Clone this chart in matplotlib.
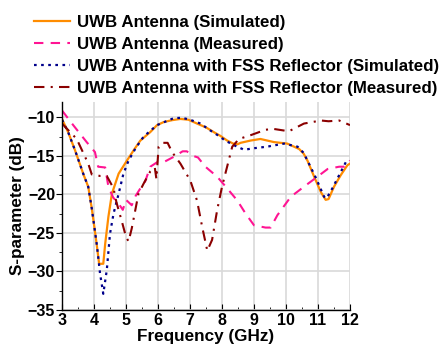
import matplotlib
matplotlib.use("Agg")
import matplotlib.pyplot as plt
from matplotlib.ticker import MultipleLocator

plt.rcParams['font.family'] = ['Liberation Sans', 'DejaVu Sans']
plt.rcParams['font.weight'] = 'bold'

labels = ["UWB Antenna (Simulated)", "UWB Antenna (Measured)",
          "UWB Antenna with FSS Reflector (Simulated)",
          "UWB Antenna with FSS Reflector (Measured)"]

uwb_sim_f = [3.0, 3.2, 3.41, 3.68, 3.82, 3.93, 4.03, 4.1, 4.16, 4.29, 4.35, 4.45, 4.56, 4.77,
             5.03, 5.25, 5.45, 5.76, 5.97, 6.18, 6.45, 6.7, 6.95, 7.22, 7.5, 7.74, 7.95, 8.16,
             8.35, 8.48, 8.58, 8.9, 9.2, 9.62, 10.04, 10.41, 10.55, 10.67, 10.88, 11.09, 11.24,
             11.33, 11.5, 11.71, 11.92, 12.0]
uwb_sim_s = [-10.2, -12.0, -14.3, -17.5, -19.0, -21.8, -24.8, -27.0, -29.0, -29.0, -26.4, -22.9,
             -19.9, -17.3, -15.6, -14.2, -13.0, -11.9, -11.0, -10.6, -10.35, -10.2, -10.3, -10.8,
             -11.3, -11.9, -12.4, -13.0, -13.4, -13.5, -13.3, -13.0, -12.8, -13.2, -13.4, -14.1,
             -14.7, -15.6, -17.7, -19.7, -20.7, -20.6, -19.0, -17.5, -16.2, -16.0]

uwb_meas_f = [3.0, 3.35, 3.77, 4.03, 4.13, 4.35, 4.45, 4.6, 4.77, 4.9, 5.0, 5.18, 5.3, 5.45, 5.6,
              5.76, 5.98, 6.18, 6.5, 6.77, 6.9, 7.1, 7.25, 7.48, 7.85, 8.16, 8.48, 8.74, 9.0,
              9.36, 9.52, 9.73, 10.15, 10.56, 10.98, 11.3, 11.66, 11.82, 12.0]
uwb_meas_s = [-9.1, -11.0, -13.2, -14.5, -16.4, -16.5, -19.0, -20.4, -21.2, -22.0, -20.7, -21.4,
              -20.2, -19.2, -18.3, -16.4, -15.8, -15.8, -15.1, -14.4, -14.4, -15.0, -15.2, -16.4,
              -17.7, -19.2, -20.8, -22.5, -24.0, -24.3, -24.3, -22.7, -20.3, -19.0, -17.7, -16.7,
              -16.4, -16.4, -15.6]

fss_sim_f = [3.0, 3.2, 3.41, 3.68, 3.82, 3.93, 4.03, 4.09, 4.19, 4.29, 4.40, 4.50, 4.61, 4.77,
             4.92, 5.08, 5.3, 5.55, 5.8, 5.97, 6.2, 6.49, 6.75, 7.0, 7.33, 7.6, 7.9, 8.1, 8.37,
             8.69, 9.0, 9.41, 9.94, 10.36, 10.55, 10.67, 10.94, 11.19, 11.27, 11.45, 11.71, 11.92]
fss_sim_s = [-10.3, -12.0, -14.3, -17.5, -19.0, -21.8, -24.8, -26.6, -30.3, -32.9, -29.8, -25.1,
             -22.5, -19.9, -17.3, -15.6, -14.0, -12.5, -11.6, -11.0, -10.6, -10.1, -10.05, -10.3,
             -10.8, -11.6, -12.4, -13.0, -13.6, -14.2, -14.0, -13.8, -13.4, -13.8, -14.6, -15.6,
             -17.9, -20.3, -20.5, -19.2, -17.1, -15.4]

fss_meas_f = [3.0, 3.46, 3.82, 3.93, 4.19, 4.4, 4.61, 4.7, 4.87, 5.0, 5.08, 5.18, 5.39, 5.55,
              5.76, 5.9, 5.95, 6.02, 6.13, 6.3, 6.44, 6.7, 7.01, 7.22, 7.38, 7.54, 7.69, 7.85,
              8.0, 8.16, 8.32, 8.53, 8.9, 9.1, 9.36, 9.62, 10.09, 10.56, 11.09, 11.33, 11.66, 12.0]
fss_meas_s = [-10.8, -12.8, -16.0, -17.4, -17.6, -17.6, -19.2, -21.0, -23.5, -25.5, -26.1, -24.4,
              -19.9, -18.6, -17.0, -16.5, -18.0, -13.8, -13.3, -13.3, -14.5, -16.0, -18.2, -20.8,
              -24.2, -27.3, -25.9, -22.0, -19.0, -16.4, -13.8, -12.8, -12.3, -12.0, -11.6, -11.5,
              -11.8, -10.8, -10.4, -10.5, -10.4, -11.0]

x_ticks = [3, 4, 5, 6, 7, 8, 9, 10, 11, 12]
y_ticks = [-35, -30, -25, -20, -15, -10]

fig = plt.figure(figsize=(4.41, 3.54), dpi=100)
ax = fig.add_axes([62/441, 1-310/354, (350-62)/441, (310-102)/354])

l1, = ax.plot(uwb_sim_f, uwb_sim_s, color='#FF8C00', lw=1.6, ls='-')
l2, = ax.plot(uwb_meas_f, uwb_meas_s, color='#FF1493', lw=1.5, dashes=(4.5, 3.5))
l3, = ax.plot(fss_sim_f, fss_sim_s, color='#00008B', lw=1.6, dashes=(1.2, 2.0))
l4, = ax.plot(fss_meas_f, fss_meas_s, color='#8B0000', lw=1.5, dashes=(5, 3, 1, 3))

ax.set_xlim(3, 12)
ax.set_ylim(-35, -8)
ax.set_xticks(x_ticks)
ax.set_yticks(y_ticks)
ax.xaxis.set_minor_locator(MultipleLocator(0.5))
ax.yaxis.set_minor_locator(MultipleLocator(2.5))
ax.grid(True, which='major', color='#d9d9d9', lw=1.2)
ax.set_axisbelow(True)
for s in ['top', 'right']:
    ax.spines[s].set_visible(False)
for s in ['left', 'bottom']:
    ax.spines[s].set_linewidth(1.0)
ax.tick_params(axis='x', which='major', direction='in', length=4, labelsize=11.5, pad=2)
ax.tick_params(axis='x', which='minor', direction='in', length=2)
ax.tick_params(axis='y', which='major', direction='out', length=4, labelsize=11.5, pad=1)
ax.tick_params(axis='y', which='minor', direction='out', length=2)
for t in ax.get_xticklabels() + ax.get_yticklabels():
    t.set_fontweight('bold')

ax.set_xlabel('Frequency (GHz)', fontsize=12.3, fontweight='bold', labelpad=1)
ax.set_ylabel('S-parameter (dB)', fontsize=12.3, fontweight='bold', labelpad=2)

fig.legend([l1, l2, l3, l4], labels, loc='upper left', bbox_to_anchor=(34/441, 1-15/354),
           frameon=False, borderpad=0, borderaxespad=0, handlelength=2.1, handletextpad=0.45,
           labelspacing=0.42, prop={'size': 12.2, 'weight': 'bold'})

fig.savefig('out.png', dpi=100)
